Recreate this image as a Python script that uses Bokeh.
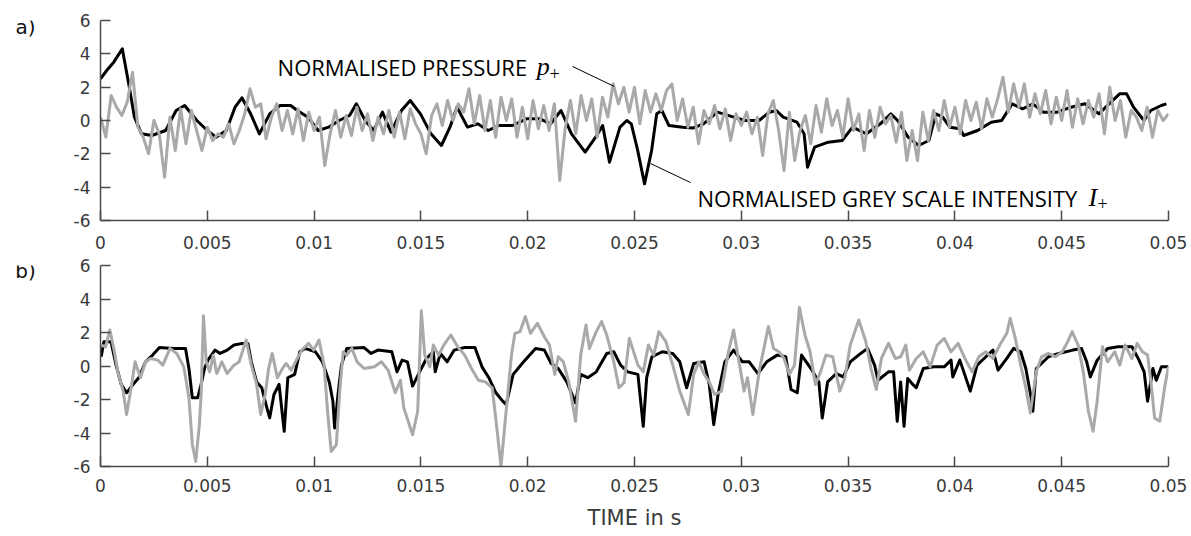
import numpy as np
from bokeh.plotting import figure
from bokeh.layouts import column, row
from bokeh.models import FixedTicker, Label, Arrow, Range1d
from bokeh.embed import file_html
from bokeh.resources import INLINE

# ---------------- data ----------------
x_ticks = [0, 0.005, 0.01, 0.015, 0.02, 0.025, 0.03, 0.035, 0.04, 0.045, 0.05]
x_tick_labels = ["0", "0.005", "0.01", "0.015", "0.02", "0.025", "0.03", "0.035", "0.04", "0.045", "0.05"]
y_ticks = [-6, -4, -2, 0, 2, 4, 6]
y_tick_labels = ["-6", "-4", "-2", "0", "2", "4", "6"]
panel_labels = ["a)", "b)"]
x_axis_title = "TIME in s"

# panel a) normalised grey scale intensity I+ (time in ms, value)
a_I_t_ms = [0.00, 0.29, 0.62, 1.02, 1.35, 1.59, 1.92, 2.40, 3.05, 3.54, 3.94, 4.51, 5.00, 5.41, 5.89, 6.30,
            6.62, 7.03, 7.44, 7.92, 8.41, 8.90, 9.22, 9.71, 10.19, 10.68, 11.17, 11.66, 11.98, 12.39, 12.79,
            13.20, 13.60, 14.09, 14.50, 14.98, 15.47, 15.96, 16.36, 16.69, 17.18, 17.66, 18.15, 18.64, 19.29,
            19.94, 20.58, 21.07, 21.56, 22.05, 22.69, 23.18, 23.51, 23.83, 24.32, 24.64,
            24.85, 25.15, 25.47, 25.80, 26.04, 26.28, 26.61, 27.26, 27.74, 28.23, 28.88, 29.53, 30.18, 30.83,
            31.31, 31.64, 31.96, 32.61, 32.94, 33.10, 33.43, 34.07, 34.72, 35.21, 35.86, 36.51, 37.00, 37.32,
            37.81, 38.30, 38.78, 39.11, 39.43, 39.76, 40.24, 40.41, 41.06, 41.70, 42.19, 42.68, 43.17, 43.65,
            44.14, 44.79, 45.44, 46.09, 46.74, 47.22, 47.71, 48.04, 48.36, 48.85, 49.17, 49.66, 49.90]
a_I_val = [2.5, 3.0, 3.5, 4.3, 2.0, 0.2, -0.8, -0.9, -0.6, 0.6, 0.9, 0.0, -0.6, -1.0, -0.6, 0.8,
           1.36, 0.4, -0.8, 0.4, 0.9, 0.9, 0.6, 0.2, -0.6, -0.4, 0.0, 0.3, 1.0, 0.0, -0.6,
           0.5, -0.7, 0.6, 1.2, 0.4, -0.8, -1.5, -0.4, 0.8, -0.4, -0.2, -0.6, -0.3, -0.3,
           0.1, 0.1, -0.2, 0.6, -0.8, -1.9, -1.0, -0.3, -2.5, -0.4, 0.0,
           -0.2, -1.8, -3.8, -1.8, 0.4, 0.6, -0.3, -0.4, -0.45, -0.2, 0.5, 0.25, 0.0, 0.0,
           0.5, 0.6, 0.2, -0.1, -0.8, -2.8, -1.6, -1.3, -1.2, -0.4, -0.8, -0.2, 0.4, 0.0,
           -1.0, -1.5, -1.2, 0.4, 0.2, -0.4, -0.5, -0.9, -0.6, -0.1, 0.0, 1.0, 0.7, 1.0,
           0.5, 0.5, 0.8, 1.0, 0.4, 1.0, 1.6, 1.6, 0.8, 0.0, 0.6, 0.9, 1.0]

# panel a) normalised pressure p+ (sampled every 0.25 ms from 0 to 50 ms)
a_p_step_ms = 0.25
a_p_val = [0.2, -1.0, 1.5, 0.8, 0.3, 1.1, 2.9, -0.4, -1.0, -2.0, 0.0, -0.8, -3.4, 0.2, -1.8, 0.7,
           -1.4, 0.6, -0.6, -1.8, -0.4, -1.2, -0.8, -1.0, -0.2, -1.4, -0.6, 0.4, 1.9, 0.8, 1.0, -1.1,
           0.2, 1.0, -0.6, 0.6, -0.8, 0.7, -1.2, 0.5, -0.6, 0.2, -2.7, -0.8, 0.6, -1.0, 0.3, -0.9,
           0.8, -0.6, 0.4, -1.2, 0.2, -0.8, 0.6, -1.0, 0.5, -1.1, 0.7, -0.2, -0.8, -2.0, 0.3, 1.0,
           -0.3, 1.2, 0.0, 1.0, 0.5, 1.9, -0.2, 1.5, -0.6, 1.2, -1.0, 1.4, 0.0, 1.3, -1.0, 0.8,
           -1.1, 1.2, -0.5, 0.9, -0.6, 1.0, -3.6, -0.5, 1.2, -0.8, 1.5, 0.0, 1.3, -1.0, 1.4, 0.2,
           2.2, 1.0, 2.0, 0.5, 2.0, -0.2, 1.8, 0.5, 1.6, 0.6, 1.8, 2.2, 0.0, 1.3, -0.4, 0.8,
           -1.4, 0.6, -0.2, 0.9, -0.5, 0.7, -1.2, 0.4, -0.3, 0.5, -0.8, 0.2, -2.1, 0.4, 1.2, -0.6,
           -3.0, 0.5, -2.4, -0.6, 0.3, -1.4, 0.9, -0.7, 1.3, -0.3, 0.6, -1.0, 1.3, -0.6, 0.4, -1.8,
           0.6, -1.0, 0.8, -0.2, 0.3, -1.3, 0.5, -2.4, -0.6, -2.4, 0.5, -1.2, 0.6, -0.6, 1.2, -0.4,
           0.8, -0.8, 1.2, 0.0, 1.1, -0.5, 1.3, 0.2, 1.3, 2.6, 0.5, 2.2, 0.8, 2.2, 0.2, 1.6,
           0.4, 1.8, -0.2, 1.4, 0.0, 1.8, -0.4, 1.3, -0.2, 1.2, 0.2, 1.6, -0.8, 2.0, 0.0, 1.2,
           -1.0, 0.6, 0.2, -0.6, 0.8, -1.0, 0.6, 0.0, 0.4]

# panel b) normalised grey scale intensity I+
b_I_t_ms = [0.03, 0.16, 0.49, 0.73, 0.97, 1.22, 1.46, 1.79, 2.11, 2.44, 2.76, 3.41, 3.98, 4.14, 4.30, 4.55,
            4.71, 4.87, 5.03, 5.36, 5.60, 5.93, 6.25, 6.66, 6.90, 7.06, 7.31, 7.55, 7.79, 7.92, 8.12, 8.36,
            8.60, 8.77, 9.09, 9.33, 9.58, 10.06, 10.39, 10.71, 10.88, 10.96, 11.12, 11.28, 11.53, 12.34,
            12.66, 12.99, 13.64, 13.88, 14.12, 14.37, 14.61, 14.94, 15.26, 15.58, 15.67, 15.91, 16.23, 16.56,
            17.05, 17.53, 17.86, 18.18, 18.51, 18.83, 18.99, 19.32, 19.81, 20.37, 20.78, 21.10, 21.43, 21.83,
            22.24, 22.48, 22.81, 23.21, 23.70, 24.03, 24.35, 24.68, 25.16,
            25.41, 25.57, 25.81, 26.30, 26.79, 27.12, 27.44, 27.77, 28.26, 28.50, 28.71, 28.91, 29.23, 29.64,
            30.05, 30.37, 30.78, 31.19, 31.68, 32.08, 32.33, 32.62, 32.82, 33.31, 33.63, 33.79, 34.04, 34.45,
            34.77, 35.10, 35.59, 35.91, 36.24, 36.40, 36.89, 37.13, 37.30, 37.46, 37.62, 37.79, 38.03, 38.19,
            38.52, 39.01, 39.50, 39.82, 39.90, 40.23, 40.72, 41.04, 41.45, 41.78, 42.02, 42.43, 42.75, 43.08,
            43.32, 43.57, 43.65, 43.81, 44.38, 44.87, 45.52, 45.93, 46.17, 46.34, 46.66, 47.15, 47.64, 48.29,
            48.62, 48.86, 49.02, 49.27, 49.43, 49.67, 50.0]
b_I_val = [0.55, 1.45, 1.45, 0.05, -1.1, -1.6, -1.2, -0.7, 0.25, 0.65, 1.1, 1.05, 1.05, -0.15, -1.9, -1.9,
           -1.1, -0.15, 0.35, 0.95, 0.75, 0.95, 1.25, 1.35, 1.35, 0.25, -0.95, -1.3, -2.5, -3.1, -1.7, -1.1,
           -3.9, -0.7, -0.5, 0.85, 1.05, 0.85, 0.25, -0.95, -2.1, -3.7, -1.7, 0.05, 1.05, 1.1,
           0.75, 0.95, 0.85, -0.35, 0.35, 0.25, -1.2, -0.35, 0.45, 0.85, -0.35, 0.75, 0.25, 0.95,
           1.1, 1.1, -0.05, -0.7, -1.6, -2.1, -2.3, -0.5, 0.25, 1.05, 0.95, 0.15, -0.15, -0.95,
           -2.2, -0.5, -0.7, -0.35, 0.75, 0.85, 0.05, -0.35, -0.5,
           -3.6, -0.7, 0.55, 0.85, 0.75, 0.25, -1.3, 0.15, 0.25, -1.1, -3.5, -1.7, 0.25, 0.95,
           0.25, 0.25, -0.45, 0.25, 0.65, 0.55, -1.4, -1.6, 0.65, -0.25, -0.95, -3.1, -0.95, -0.45,
           -0.65, 0.25, 0.75, 1.05, 0.05, -0.85, -0.35, -0.35, -3.3, -0.95, -3.6, -0.75, -1.1, -1.3,
           -0.15, -0.05, -0.05, 0.35, -0.65, 0.35, -1.5, 0.05, 0.55, 0.95, -0.25, 0.45, 1.05, 0.85,
           -0.15, -1.9, -2.7, -0.15, 0.55, 0.75, 0.95, 1.05, 0.25, -0.65, 0.35, 1.05, 1.15, 1.15,
           0.35, -0.35, -2.1, -0.15, -0.85, -0.05, -0.05]

# panel b) normalised pressure p+
b_p_t_ms = [0.03, 0.24, 0.44, 0.65, 0.81, 1.06, 1.22, 1.46, 1.62, 1.87, 2.11, 2.35, 2.68, 2.92, 3.25, 3.57,
            3.90, 4.14, 4.30, 4.46, 4.63, 4.71, 4.82, 4.95, 5.11, 5.28, 5.44, 5.68, 5.93, 6.25, 6.49, 6.82,
            7.06, 7.31, 7.50, 7.71, 7.87, 8.04, 8.28, 8.52, 8.69, 8.93, 9.17, 9.42, 9.74, 9.98, 10.23, 10.47,
            10.63, 10.80, 11.04, 11.20, 11.36, 11.53, 11.77, 12.01, 12.34, 12.82, 13.15, 13.47, 13.80, 14.04,
            14.20, 14.61, 14.85, 15.02, 15.18, 15.42, 15.58, 15.83, 16.07, 16.40, 16.72, 17.05, 17.37, 17.69,
            18.02, 18.34, 18.59, 18.75, 18.99, 19.24, 19.40, 19.64, 19.89, 20.13, 20.45, 20.78, 21.02, 21.27,
            21.43, 21.67, 21.92, 22.24, 22.48, 22.73, 22.89, 23.21, 23.46, 23.70, 24.03, 24.27, 24.51, 24.76,
            25.16, 25.41, 25.65, 25.90, 26.14, 26.47, 26.79, 27.12, 27.52, 27.77, 28.01, 28.26, 28.50, 28.75,
            29.07, 29.40, 29.64, 29.89, 30.13, 30.29, 30.54, 30.86, 31.27, 31.51, 31.76, 32.00, 32.25, 32.49,
            32.72, 32.98, 33.22, 33.47, 33.71, 33.96, 34.28, 34.61, 34.85, 35.10, 35.50, 35.83, 36.07, 36.32,
            36.56, 36.89, 37.21, 37.46, 37.70, 37.87, 38.19, 38.52, 38.84, 39.17, 39.50, 39.82, 40.15, 40.47,
            40.80, 41.12, 41.45, 41.78, 42.10, 42.43, 42.59, 42.83, 43.08, 43.32, 43.53, 43.81, 44.06, 44.38,
            44.71, 45.03, 45.28, 45.49, 45.77, 46.01, 46.25, 46.47, 46.66, 46.91, 47.15, 47.48, 47.72, 47.96,
            48.29, 48.53, 48.78, 49.02, 49.19, 49.35, 49.59, 49.84, 50.0]
b_p_val = [1.25, 1.15, 2.15, 0.85, -0.35, -1.5, -2.9, -1.1, 0.25, -0.7, 0.25, 0.45, 0.35, 0.05, 1.05, 0.75,
           -0.05, -1.9, -4.7, -5.7, -3.5, -1.7, 3.0, 0.25, -0.35, 0.65, -0.45, 0.25, -0.45, 0.05, 0.25, 1.55,
           0.05, -1.1, -2.9, -1.7, -0.15, 0.75, -0.7, -0.15, 0.15, -0.25, 0.35, 0.95, 1.35, 0.95, 1.55, 0.05,
           -2.7, -5.1, -4.7, -1.5, 0.85, 0.65, 1.05, 0.25, -0.15, -0.05, 0.25, -0.25, -1.6, -0.85,
           -2.5, -4.1, -2.7, 3.3, 0.65, -0.05, 1.25, 0.65, 1.25, 1.85, 1.15, 0.65, -0.15, -0.85,
           -0.95, -1.3, -4.1, -6.0, -2.7, 0.65, 1.95, 2.05, 2.95, 1.95, 2.55, 1.75, 1.25, -0.5,
           0.55, 0.25, -0.95, -3.3, 0.65, 2.45, 1.05, 2.05, 2.65, 1.85, 0.25, -1.3, -1.0, 1.65,
           0.05, -0.35, 1.25, 0.65, 2.05, 1.45, 0.05, -1.5, -2.9, -0.5, 0.25, -0.5, -0.95, -1.7,
           -1.5, 0.85, 2.15, 0.25, -1.5, -0.7, -2.9, -0.15, 2.35, 1.05, 0.85, 0.45, -0.5, 0.05,
           3.5, 1.85, 0.85, -1.1, -0.35, 0.65, 0.55, -1.5, -0.7, 1.25, 2.75, 1.45, -0.15, -1.4,
           0.45, 1.35, 0.45, 0.55, 1.25, -0.25, 0.45, 0.85, -0.05, 1.25, 1.65, 0.85, 1.35, 0.45,
           -0.35, 0.55, 0.85, 0.45, 1.25, 1.95, 2.85, 1.65, 0.05, -1.3, -2.8, -0.35, 0.55, 0.75,
           0.55, 0.85, 1.45, 2.05, 1.25, -0.35, -2.7, -3.9, -2.1, 1.15, 0.25, 0.85, 0.05, 1.25,
           0.45, 1.35, 0.85, 0.65, -1.1, -3.1, -3.3, -1.1, -0.05]

BLACK = "#000000"
GREY = "#aaa8a8"
AXIS_COL = "#4a4a4a"
TEXT_COL = "#3a3a3a"
TICK_FONT = "DejaVu Sans"
ANN_FONT = "Open Sans"
SIDE_W = 70


def make_panel(height, top, bottom, xlabel=None):
    p = figure(width=1191 - SIDE_W, height=height, x_range=(0, 0.05), y_range=(-6, 6),
               output_backend="svg", toolbar_location=None, title=None,
               min_border_left=30, min_border_right=23, min_border_top=top, min_border_bottom=bottom,
               outline_line_color=None, background_fill_color="white", border_fill_color="white")
    p.xgrid.visible = False
    p.ygrid.visible = False
    for ax in (p.xaxis[0], p.yaxis[0]):
        ax.axis_line_color = AXIS_COL
        ax.axis_line_width = 1.5
        ax.major_tick_line_color = AXIS_COL
        ax.major_tick_line_width = 1.5
        ax.major_tick_in = 10
        ax.major_tick_out = 0
        ax.minor_tick_in = 0
        ax.minor_tick_out = 0
        ax.major_label_text_font = TICK_FONT
        ax.major_label_text_font_size = "17px"
        ax.major_label_text_color = TEXT_COL
    p.xaxis.ticker = FixedTicker(ticks=x_ticks)
    p.xaxis.major_label_overrides = dict(zip(x_ticks, x_tick_labels))
    p.xaxis.major_label_standoff = 15
    p.yaxis.ticker = FixedTicker(ticks=y_ticks)
    p.yaxis.major_label_overrides = dict(zip(y_ticks, y_tick_labels))
    p.yaxis.major_label_standoff = 10
    if xlabel:
        p.xaxis.major_label_standoff = 12
        p.xaxis.axis_label = xlabel
        p.xaxis.axis_label_text_font = TICK_FONT
        p.xaxis.axis_label_text_font_size = "21px"
        p.xaxis.axis_label_text_font_style = "normal"
        p.xaxis.axis_label_text_color = TEXT_COL
        p.xaxis.axis_label_standoff = 11
    return p


def make_side(height, label, label_from_top):
    s = figure(width=SIDE_W, height=height, x_range=Range1d(0, SIDE_W), y_range=Range1d(0, height),
               output_backend="svg", toolbar_location=None, title=None,
               min_border=0, min_border_left=0, min_border_right=0, min_border_top=0, min_border_bottom=0,
               x_axis_location=None, y_axis_location=None, outline_line_color=None,
               background_fill_color="white", border_fill_color="white")
    s.xgrid.visible = False
    s.ygrid.visible = False
    s.add_layout(Label(x=25, y=height - label_from_top, text=label,
                       text_font="DejaVu Sans", text_font_size="20px",
                       text_align="center", text_baseline="middle", text_color="#111111"))
    return s


# ---------------- panel a ----------------
H_A, H_B = 255, 281
pa = make_panel(H_A, 20, 35)
a_I_t = np.array(a_I_t_ms) / 1000.0
a_p_t = np.arange(len(a_p_val)) * a_p_step_ms / 1000.0
pa.line(a_I_t, a_I_val, line_color=BLACK, line_width=3, line_join="round")
pa.line(a_p_t, a_p_val, line_color=GREY, line_width=3, line_join="round")

pa.add_layout(Label(x=0.00829, y=3.24, text="NORMALISED PRESSURE", text_font=ANN_FONT,
                    text_font_size="22px", text_align="left", text_baseline="alphabetic", text_color="#000000"))
pa.add_layout(Label(x=0.02042, y=3.24, text="p", text_font="Liberation Serif", text_font_style="italic",
                    text_font_size="26px", text_align="left", text_baseline="alphabetic", text_color="#000000"))
pa.add_layout(Label(x=0.02102, y=2.85, text="+", text_font="Liberation Serif",
                    text_font_size="18px", text_align="left", text_baseline="alphabetic", text_color="#000000"))
pa.add_layout(Arrow(end=None, x_start=0.02210, y_start=3.24, x_end=0.02406, y_end=2.04,
                    line_color="#000000", line_width=1))

pa.add_layout(Label(x=0.02795, y=-4.62, text="NORMALISED GREY SCALE INTENSITY", text_font=ANN_FONT,
                    text_font_size="22px", text_align="left", text_baseline="alphabetic", text_color="#000000"))
pa.add_layout(Label(x=0.04625, y=-4.62, text="I", text_font="Liberation Serif", text_font_style="italic",
                    text_font_size="26px", text_align="left", text_baseline="alphabetic", text_color="#000000"))
pa.add_layout(Label(x=0.04668, y=-5.0, text="+", text_font="Liberation Serif",
                    text_font_size="18px", text_align="left", text_baseline="alphabetic", text_color="#000000"))
pa.add_layout(Arrow(end=None, x_start=0.02575, y_start=-2.58, x_end=0.02762, y_end=-3.72,
                    line_color="#000000", line_width=1))

# ---------------- panel b ----------------
pb = make_panel(H_B, 10, 70, xlabel=x_axis_title)
b_I_t = np.array(b_I_t_ms) / 1000.0
b_p_t = np.array(b_p_t_ms) / 1000.0
pb.line(b_I_t, b_I_val, line_color=BLACK, line_width=3, line_join="round")
pb.line(b_p_t, b_p_val, line_color=GREY, line_width=3, line_join="round")

sa = make_side(H_A, panel_labels[0], 8)
sb = make_side(H_B, panel_labels[1], 7)

layout = column(row(sa, pa, spacing=0), row(sb, pb, spacing=0), spacing=0)
open("out.html", "w").write(file_html(layout, INLINE))
